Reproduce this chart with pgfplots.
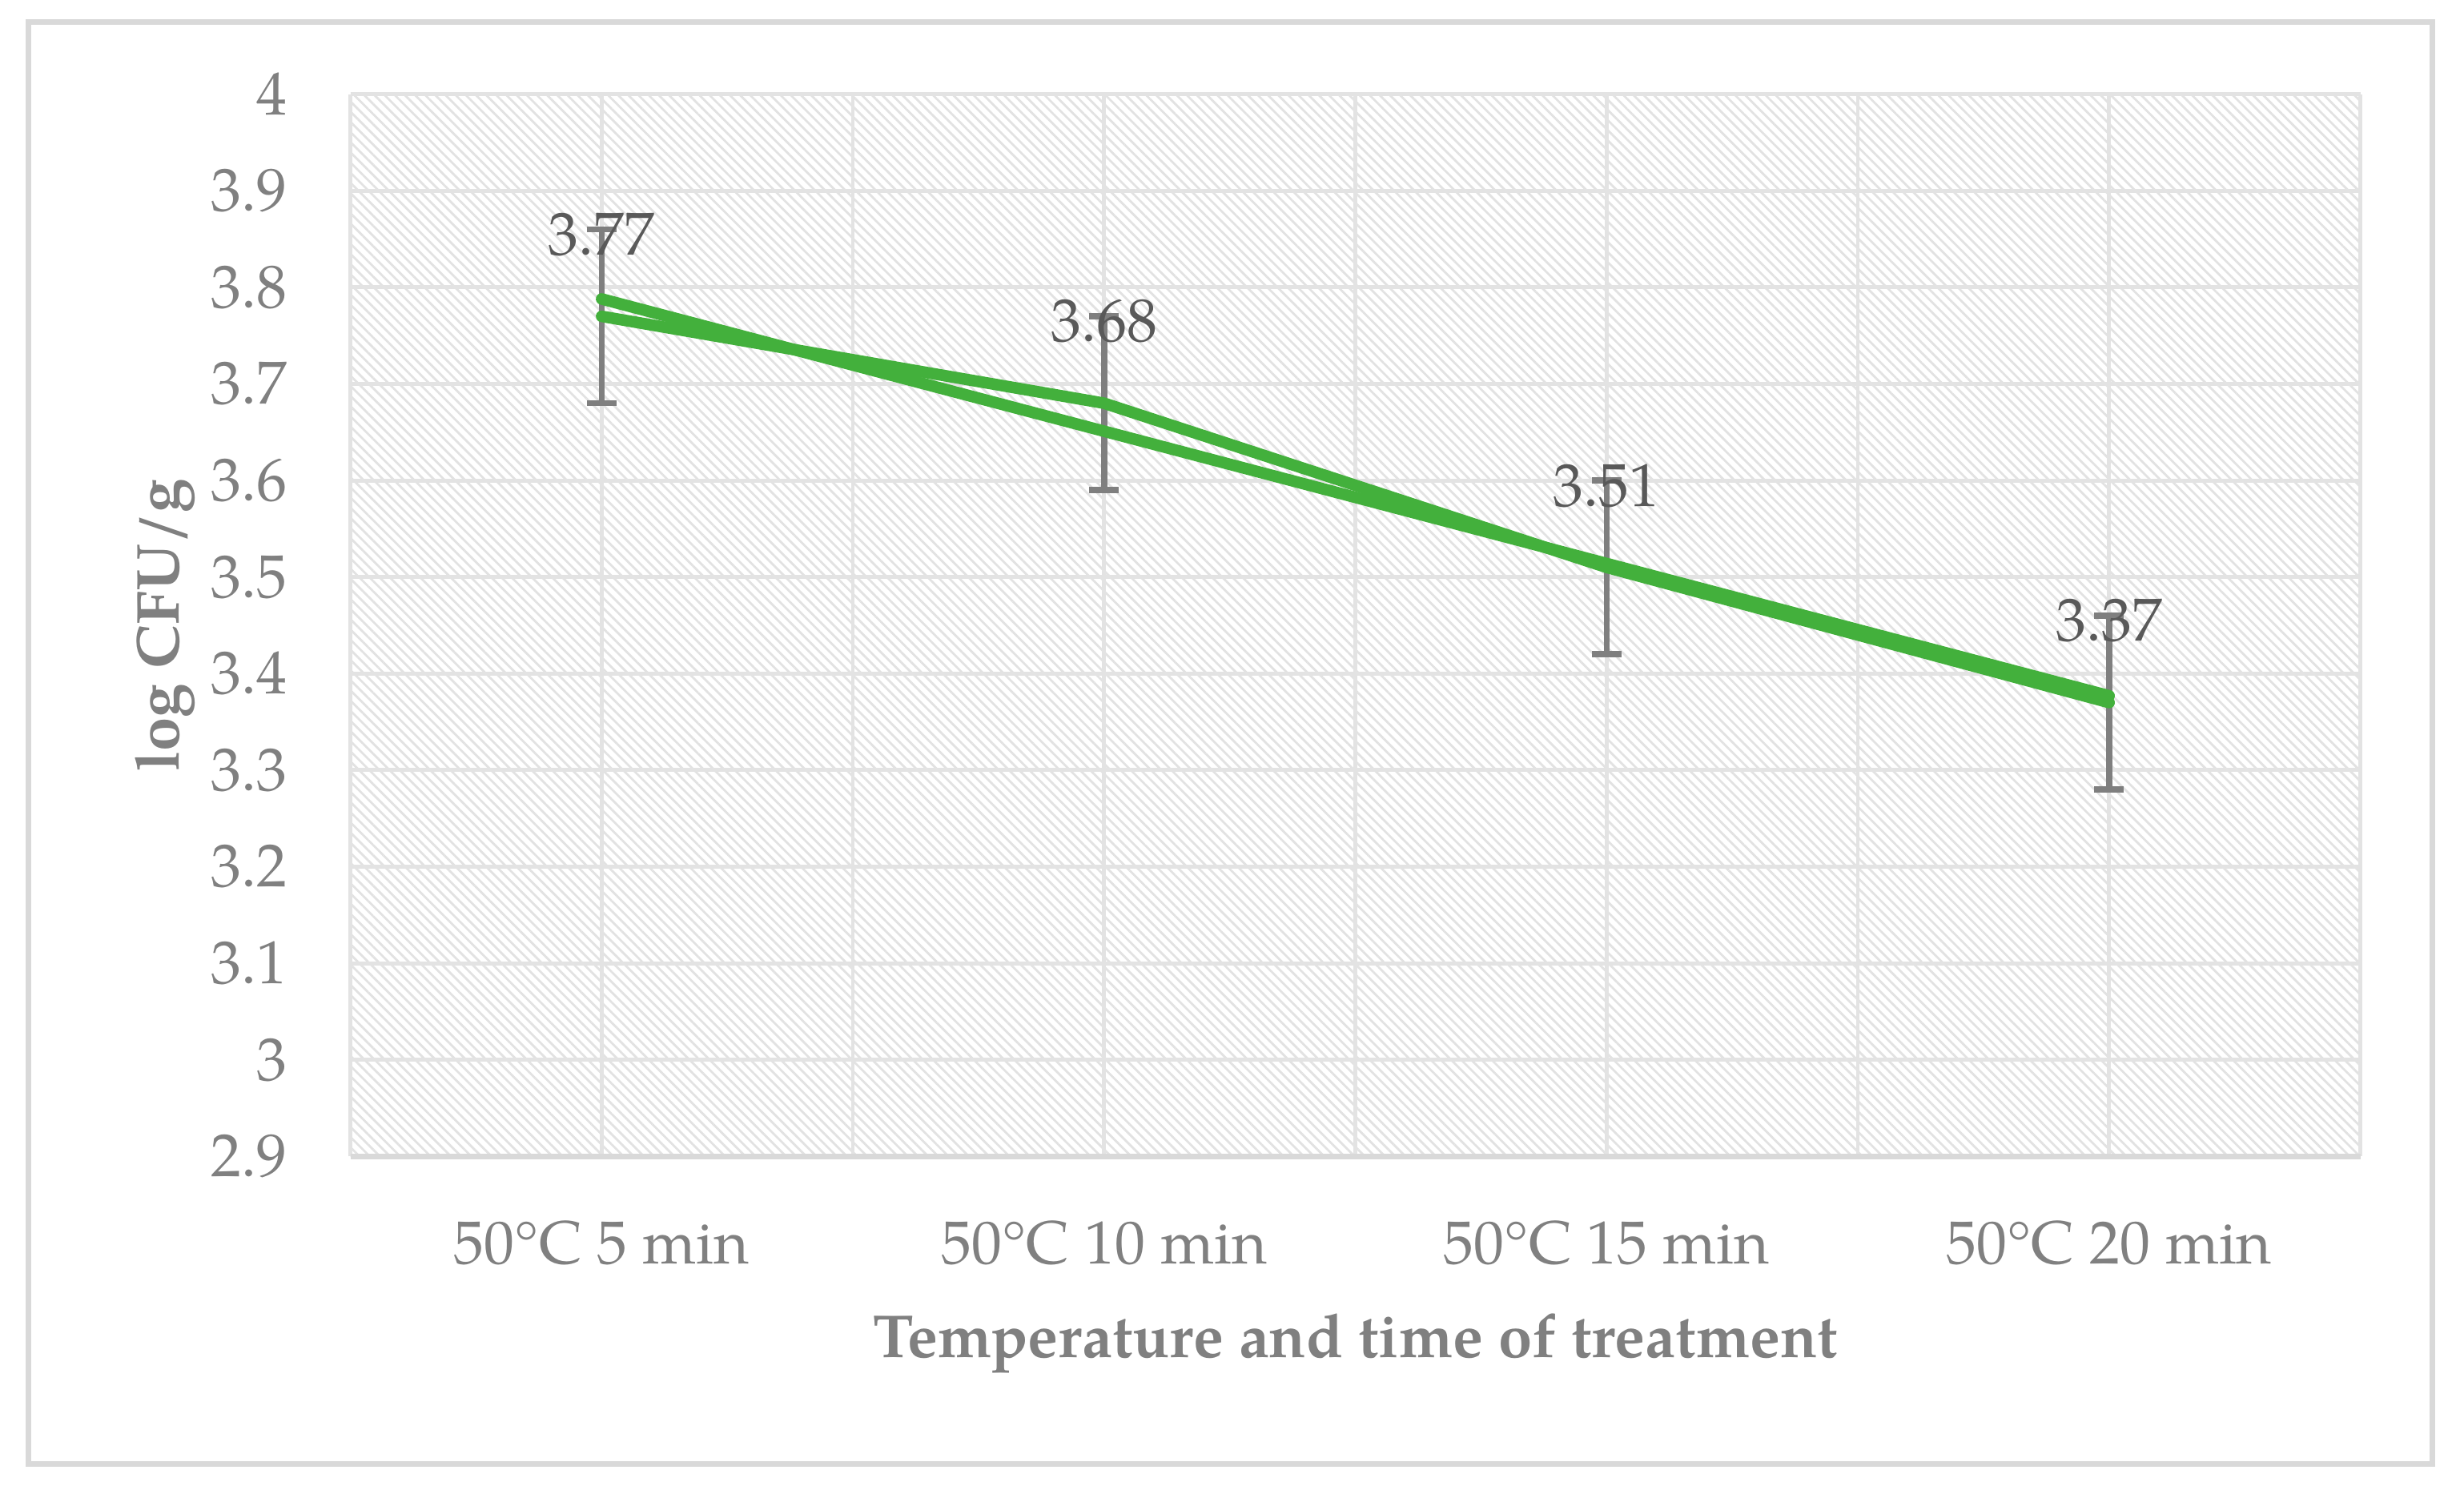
\documentclass[border=0pt]{standalone}
\usepackage{fontspec}
\setmainfont{texgyrepagella}[Extension=.otf, UprightFont=*-regular, BoldFont=*-bold, ItalicFont=*-italic, BoldItalicFont=*-bolditalic]
\usepackage{pgfplots}
\pgfplotsset{compat=1.18}
\usetikzlibrary{patterns.meta}

\definecolor{linegreen}{HTML}{43B03C}
\definecolor{errgray}{HTML}{7F7F7F}
\definecolor{labgray}{HTML}{808080}
\definecolor{valgray}{HTML}{595959}
\definecolor{gridgray}{HTML}{E3E3E3}
\definecolor{framegray}{HTML}{D9D9D9}
\definecolor{hatchgray}{HTML}{E2E2E2}

\newcommand{\chartfont}{\fontsize{11}{13}\selectfont}

\begin{document}
\begin{tikzpicture}
\fill[white] (-2.23,-2.17) rectangle (13.45,7.36);
\useasboundingbox (-2.23,-2.17) rectangle (13.45,7.36);
\draw[framegray, line width=1pt] (-2.05,-1.96) rectangle (13.25,7.22);
\begin{axis}[
    at={(0,0)}, anchor=south west,
    scale only axis,
    width=12.79cm, height=6.76cm,
    xmin=-0.5, xmax=3.5,
    ymin=2.9, ymax=4.0,
    xtick={0,1,2,3},
    xticklabels={50°C 5 min, 50°C 10 min, 50°C 15 min, 50°C 20 min},
    minor xtick={-0.5,0.5,1.5,2.5,3.5},
    ytick={2.9,3,3.1,3.2,3.3,3.4,3.5,3.6,3.7,3.8,3.9,4},
    /pgf/number format/.cd, fixed, precision=1, assume math mode=true,
    /pgfplots/.cd,
    ticklabel style={font=\chartfont, text=labgray},
    xticklabel style={anchor=center, yshift=-0.55cm},
    yticklabel style={anchor=east, xshift=-0.28cm},
    xlabel={\bfseries Temperature and time of treatment},
    ylabel={\bfseries log CFU/g},
    label style={font=\chartfont, text=labgray},
    xlabel style={at={(axis description cs:0.5,-0.176)}, anchor=center},
    ylabel style={at={(axis description cs:-0.0923,0.5)}, anchor=center},
    axis line style={draw=none},
    major tick length=0pt, minor tick length=0pt,
    xmajorgrids, xminorgrids, ymajorgrids,
    grid style={draw=gridgray, line width=0.7pt},
    minor grid style={draw=gridgray, line width=0.7pt},
    axis background/.style={fill=white, postaction={pattern={Lines[angle=-45, distance=1.3pt, line width=0.4pt]}, pattern color=hatchgray}},
    clip=false,
]

% bottom axis line
\draw[framegray, line width=1.05pt] (rel axis cs:0,0) -- (rel axis cs:1,0);

% error bars (+- 0.09)
\addplot[draw=none, no markers, forget plot,
    error bars/.cd, y dir=both, y explicit,
    error bar style={draw=errgray, line width=1.1pt},
    error mark options={rotate=90, draw=errgray, line width=1.1pt, mark size=2.7pt}]
coordinates {(0,3.77) +- (0,0.09) (1,3.68) +- (0,0.09) (2,3.51) +- (0,0.09) (3,3.37) +- (0,0.09)};

% linear trendline
\addplot[draw=linegreen, line width=2.1pt, line cap=round, mark=none]
coordinates {(0,3.788) (1,3.651) (2,3.514) (3,3.377)};

% measured values
\addplot[draw=linegreen, line width=2.1pt, line cap=round, line join=round, mark=none,
    nodes near coords, point meta=explicit symbolic,
    every node near coord/.append style={anchor=center, yshift=0.52cm, text=valgray, font=\chartfont}]
coordinates {(0,3.77) [3.77] (1,3.68) [3.68] (2,3.51) [3.51] (3,3.37) [3.37]};

\end{axis}
\end{tikzpicture}
\end{document}
